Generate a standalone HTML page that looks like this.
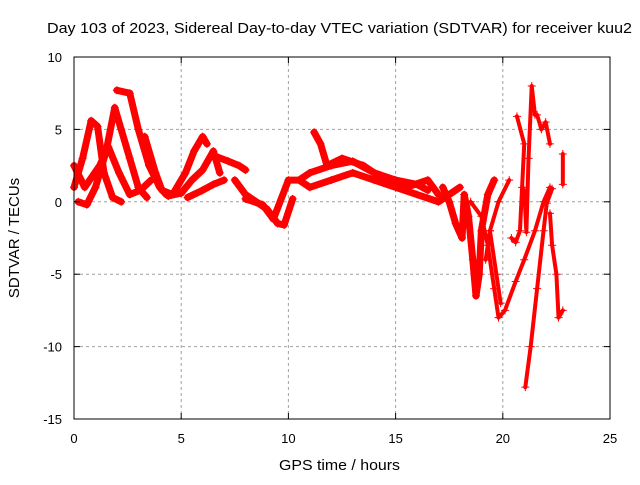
<!DOCTYPE html>
<html><head><meta charset="utf-8"><style>
body{margin:0;background:#fff}
svg text{font-family:"Liberation Sans",sans-serif;font-size:13px;fill:#000}
svg text.big{font-size:15px}
</style></head><body>
<svg id="chart" width="640" height="480" xmlns="http://www.w3.org/2000/svg">
<rect width="640" height="480" fill="#fff"/>
<text class="big" x="47" y="33" textLength="585" lengthAdjust="spacingAndGlyphs">Day 103 of 2023, Sidereal Day-to-day VTEC variation (SDTVAR) for receiver kuu2</text>
<text class="big" x="279" y="470" textLength="121" lengthAdjust="spacingAndGlyphs">GPS time / hours</text>
<text class="big" transform="translate(19,238) rotate(-90)" text-anchor="middle">SDTVAR / TECUs</text>
<g id="grid"></g>
<g id="marks"></g>
<rect x="74" y="57" width="536" height="362" fill="none" stroke="#000" stroke-width="1"/>
<g id="ticks"></g>
</svg>
<script>
const xTicks=[0,5,10,15,20,25];
const yTicks=[-15,-10,-5,0,5,10];
const trackA=[[0,1],[0.4,3],[0.8,5.6],[1.1,5.2],[1.4,2],[1.8,0.3],[2.2,0]];
const trackB=[[0.2,0],[0.6,-0.2],[1.0,1],[1.5,3.5],[1.9,6.5],[2.2,5],[2.6,3],[3.0,1],[3.4,0.3]];
const trackC=[[2.0,7.7],[2.6,7.5],[3.0,5],[3.5,2.5],[4.0,1],[4.3,0.5]];
const trackD=[[0,2.5],[0.5,1],[1.2,2.5],[1.6,3.8],[2.1,2],[2.6,0.5],[3.1,0.8],[3.6,1.5]];
const trackE=[[3.3,4.5],[3.8,2],[4.1,0.8],[4.6,0.5],[5.2,2],[5.6,3.5],[6.0,4.5],[6.2,4]];
const trackF=[[4.4,0.4],[5,0.6],[5.5,1.5],[6,2.2],[6.5,3.5],[6.8,2]];
const trackG=[[5.3,0.3],[6,0.8],[6.5,1.2],[7,1.5]];
const trackH=[[6.5,3.2],[7.2,2.8],[7.7,2.5],[8,2.2]];
const trackI=[[7.5,1.5],[8,0.5],[8.5,0],[9,-0.5],[9.5,-1.5],[9.8,-1.6],[10.2,0.2]];
const trackJ=[[8,0.2],[8.8,-0.2],[9.3,-1.2],[10,1.5],[10.5,1.5],[11,2],[12,2.5],[13,2.8],[14,2],[15,1.5],[16,1.2],[16.5,0.8]];
const trackK=[[11.2,4.8],[11.5,4],[11.8,2.5],[12.5,3],[13.5,2.5],[14.5,1.5],[15.5,1],[16.5,1.5],[17,0.5]];
const trackL=[[10.5,1.5],[11,1],[12,1.5],[13,2],[14,1.5],[15,1],[16,0.5],[17,0],[17.5,0.5],[18,1]];
const trackM=[[17.2,1],[17.5,0],[17.8,-1.5],[18.1,-2.5],[18.2,0.5],[18.4,-1],[18.6,-4],[18.75,-6.5],[18.9,-5],[19.0,-2],[19.3,0.5],[19.6,1.5]];
const trackN=[[18.5,0],[19.0,-1],[19.3,-3],[19.6,-6],[19.8,-8],[20.1,-7.5],[20.6,-5.5],[21,-4],[21.5,-2],[21.9,0],[22.2,1]];
const trackO=[[19.4,-2],[19.8,0],[20.3,1.5]];
const trackP=[[20.4,-2.5],[20.6,-2.8],[20.8,-2],[20.9,1],[21.0,4],[20.66,5.9]];
const trackQ=[[19.2,-4],[19.4,-2],[19.7,-5],[19.9,-7]];
const trackR=[[21.0,0.8],[21.1,-2.1],[21.2,3],[21.35,8],[21.5,6]];
const trackS=[[21.05,-12.8],[21.3,-10],[21.6,-6],[21.9,-2],[22.05,-0.1],[22.3,0.9]];
const trackT=[[21.6,6],[21.8,5],[22.0,5.5],[22.2,4]];
const trackU=[[22.2,-0.8],[22.3,-3],[22.5,-5],[22.6,-8],[22.8,-7.5]];
const trackV=[[22.8,3.3],[22.8,1.2]];
const tracks=[trackA,trackB,trackC,trackD,trackE,trackF,trackG,trackH,trackI,trackJ,trackK,trackL,trackM,trackN,trackO,trackP,trackQ,trackR,trackS,trackT,trackU,trackV];
const NS="http://www.w3.org/2000/svg";
const X=h=>74+h*536/25, Y=v=>57+(10-v)*362/25;
const grid=document.getElementById('grid'),ticks=document.getElementById('ticks'),marks=document.getElementById('marks');
function mk(tag,attrs,parent){const e=document.createElementNS(NS,tag);for(const k in attrs)e.setAttribute(k,attrs[k]);parent.appendChild(e);return e;}
xTicks.forEach(t=>{
 if(t>0&&t<25){const g=mk('line',{x1:X(t),x2:X(t),y1:57,y2:419,stroke:'#a0a0a0','stroke-dasharray':'3,3'},grid);
 
 }
 mk('line',{x1:X(t),x2:X(t),y1:419,y2:413,stroke:'#000'},ticks);mk('line',{x1:X(t),x2:X(t),y1:57,y2:63,stroke:'#000'},ticks);
 const l=mk('text',{x:X(t),y:443,'text-anchor':'middle'},ticks);l.textContent=t;
 
 
});
yTicks.forEach(t=>{
 if(t>-15&&t<10){const g=mk('line',{x1:74,x2:610,y1:Y(t),y2:Y(t),stroke:'#a0a0a0','stroke-dasharray':'3,3'},grid);
 
 }
 mk('line',{x1:74,x2:80,y1:Y(t),y2:Y(t),stroke:'#000'},ticks);mk('line',{x1:604,x2:610,y1:Y(t),y2:Y(t),stroke:'#000'},ticks);
 const l=mk('text',{x:62,y:Y(t)+5,'text-anchor':'end'},ticks);l.textContent=t;
 
 
});
tracks.forEach(tr=>{
 const right=tr[0][0]>=18.4;
 const p=mk('polyline',{points:tr.map(d=>X(d[0])+','+Y(d[1])).join(' '),fill:'none',stroke:'#f00','stroke-width':right?4:7,'stroke-linejoin':'round','stroke-linecap':'round'},marks);
 
 
 tr.forEach(d=>{const x=X(d[0]),y=Y(d[1]);
  const m=mk('path',{d:`M${x-4},${y}H${x+4}M${x},${y-4}V${y+4}`,stroke:'#f00','stroke-width':1},marks);
  
  
 });
});
</script>
</body></html>
